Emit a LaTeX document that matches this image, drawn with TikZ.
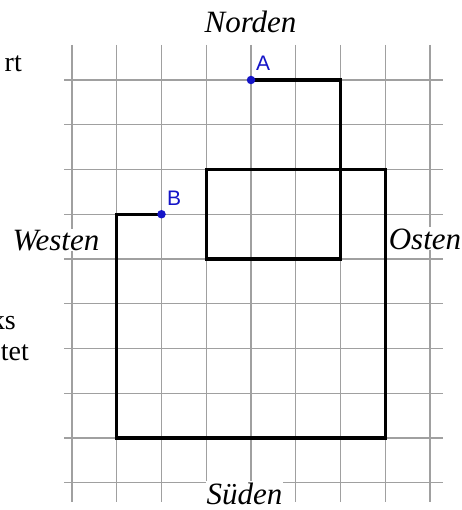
\documentclass[tikz,border=0pt]{standalone}
\usepackage{fontspec}
\setmainfont{Liberation Serif}
\newfontfamily\ptfont{Liberation Sans}
\definecolor{gridgray}{RGB}{160,160,160}
\definecolor{ptblue}{RGB}{20,20,200}
\tikzset{
  gridline/.style={draw=gridgray, line width=1.4pt},
  walk/.style={draw=black, line width=3.4pt, line join=miter},
  dir/.style={fill=white, inner xsep=1pt, inner ysep=1pt, anchor=base, font=\fontsize{31}{32}\selectfont\itshape},
  frag/.style={inner sep=0pt, anchor=base east, font=\fontsize{28}{29}\selectfont},
  pt/.style={circle, fill=ptblue, inner sep=0pt, minimum size=8.5pt},
  ptlabel/.style={inner sep=0pt, anchor=base west, text=ptblue, font=\ptfont\fontsize{21}{22}\selectfont},
}
\begin{document}
\begin{tikzpicture}[x=1pt, y=-1pt]
\useasboundingbox (0,0) rectangle (461,510);
\fill[white] (0,0) rectangle (461,510);
% grid
\foreach \i in {0,...,8}
  \draw[gridline] ({72+44.75*\i},45) -- ({72+44.75*\i},502);
\foreach \j in {0,...,9}
  \draw[gridline] (64,{80+44.75*\j}) -- (443,{80+44.75*\j});
% corners
\coordinate (p1) at (116.75,214.25);
\coordinate (p2) at (116.75,438);
\coordinate (p3) at (385.25,438);
\coordinate (p4) at (385.25,169.5);
\coordinate (p5) at (206.25,169.5);
\coordinate (p6) at (206.25,259);
\coordinate (p7) at (340.5,259);
\coordinate (p8) at (340.5,80);
\coordinate (Bc) at (161.5,214.25);
\coordinate (Ac) at (251,80);
\draw[walk] (Bc) -- (p1) -- (p2) -- (p3) -- (p4) -- (p5) -- (p6) -- (p7) -- (p8) -- (Ac);
\node[pt] (A) at (Ac) {};
\node[pt] (B) at (Bc) {};
\node[ptlabel] (Alab) at (256,71) {A};
\node[ptlabel] (Blab) at (167,206) {B};
% directions
\node[dir] (N) at (250.5,33) {Norden};
\node[dir] (W) at (56,250) {Westen};
\node[dir] (O) at (425,249) {Osten};
\node[dir] (S) at (244.5,504) {Süden};
% cut-off text fragments
\node[frag] (f1) at (22,72) {rt};
\node[frag] (f2) at (16,329) {ks};
\node[frag] (f3) at (29,360) {tet};
\end{tikzpicture}
\end{document}
